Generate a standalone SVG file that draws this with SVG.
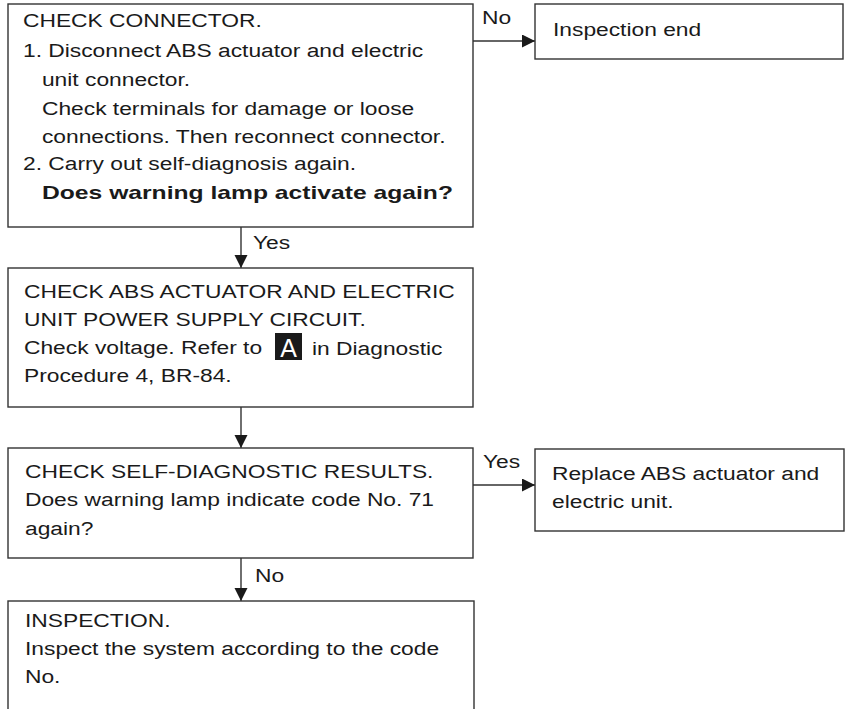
<svg xmlns="http://www.w3.org/2000/svg" width="846" height="709" viewBox="0 0 846 709">
<style>
  .box { fill: #ffffff; stroke: #333333; stroke-width: 1.4; }
  .edge { fill: none; stroke: #333333; stroke-width: 1.4; }
  .t { font-family: "Liberation Sans", Arial, sans-serif; font-size: 19px; fill: #1a1a1a; }
  .b { font-weight: bold; }
</style>
<defs>
  <marker id="arrow" markerUnits="userSpaceOnUse" markerWidth="14" markerHeight="14" refX="13" refY="6.5" orient="auto">
    <path d="M0,0 L13,6.5 L0,13 Z" fill="#1a1a1a"/>
  </marker>
</defs>
<rect width="846" height="709" fill="#ffffff"/>

<g id="connectors">
  <line class="edge" x1="473" y1="41" x2="535" y2="41" marker-end="url(#arrow)"/>
  <line class="edge" x1="241" y1="227" x2="241" y2="268" marker-end="url(#arrow)"/>
  <line class="edge" x1="241" y1="407" x2="241" y2="448" marker-end="url(#arrow)"/>
  <line class="edge" x1="473" y1="485" x2="535" y2="485" marker-end="url(#arrow)"/>
  <line class="edge" x1="241" y1="558" x2="241" y2="601" marker-end="url(#arrow)"/>
  <text class="t" transform="translate(482,24) scale(1.2,1)">No</text>
  <text class="t" transform="translate(253,249) scale(1.2,1)">Yes</text>
  <text class="t" transform="translate(483,468) scale(1.2,1)">Yes</text>
  <text class="t" transform="translate(255,582) scale(1.2,1)">No</text>
</g>

<g id="check-connector">
  <rect class="box" x="8" y="4" width="465" height="223"/>
  <text class="t" transform="translate(23,27) scale(1.2,1)">
    <tspan x="0" y="0">CHECK CONNECTOR.</tspan>
    <tspan x="0" y="30.5">1. Disconnect ABS actuator and electric</tspan>
    <tspan x="15.8" y="59">unit connector.</tspan>
    <tspan x="15.8" y="88">Check terminals for damage or loose</tspan>
    <tspan x="15.8" y="116">connections. Then reconnect connector.</tspan>
    <tspan x="0" y="143.5">2. Carry out self-diagnosis again.</tspan>
  </text>
  <text class="t b" x="42" y="198.5" textLength="411" lengthAdjust="spacingAndGlyphs">Does warning lamp activate again?</text>
</g>

<g id="inspection-end">
  <rect class="box" x="535" y="4" width="308" height="55"/>
  <text class="t" transform="translate(553,36) scale(1.2,1)">Inspection end</text>
</g>

<g id="check-power-supply">
  <rect class="box" x="8" y="268" width="465" height="139"/>
  <text class="t" transform="translate(24,298) scale(1.2,1)">
    <tspan x="0" y="0">CHECK ABS ACTUATOR AND ELECTRIC</tspan>
    <tspan x="0" y="28.5">UNIT POWER SUPPLY CIRCUIT.</tspan>
    <tspan x="0" y="56.5">Check voltage. Refer to</tspan>
    <tspan x="0" y="84.5">Procedure 4, BR-84.</tspan>
  </text>
  <rect x="275" y="333" width="27" height="27" fill="#1a1a1a"/>
  <text x="288.5" y="357" text-anchor="middle" font-family="Liberation Sans, Arial, sans-serif" font-size="25" fill="#ffffff">A</text>
  <text class="t" transform="translate(312,355) scale(1.2,1)">in Diagnostic</text>
</g>

<g id="check-self-diagnostic">
  <rect class="box" x="8" y="448" width="465" height="110"/>
  <text class="t" transform="translate(25,478) scale(1.2,1)">
    <tspan x="0" y="0">CHECK SELF-DIAGNOSTIC RESULTS.</tspan>
    <tspan x="0" y="28.5">Does warning lamp indicate code No. 71</tspan>
    <tspan x="0" y="57">again?</tspan>
  </text>
</g>

<g id="replace-unit">
  <rect class="box" x="535" y="449" width="309" height="82"/>
  <text class="t" transform="translate(552,480) scale(1.2,1)">
    <tspan x="0" y="0">Replace ABS actuator and</tspan>
    <tspan x="0" y="28">electric unit.</tspan>
  </text>
</g>

<g id="inspection">
  <rect class="box" x="8" y="601" width="466" height="200"/>
  <text class="t" transform="translate(25,627) scale(1.2,1)">
    <tspan x="0" y="0">INSPECTION.</tspan>
    <tspan x="0" y="28">Inspect the system according to the code</tspan>
    <tspan x="0" y="56">No.</tspan>
  </text>
</g>
</svg>
